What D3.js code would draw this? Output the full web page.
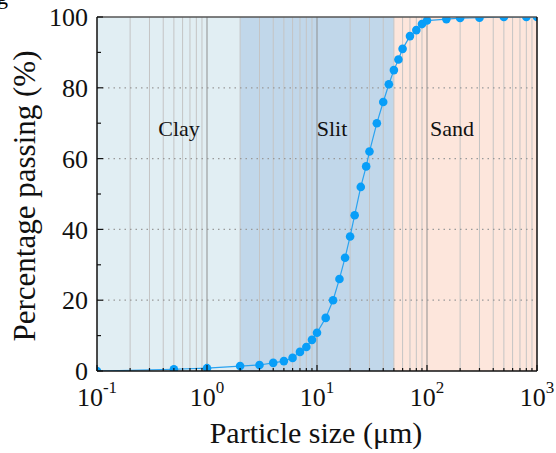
<!DOCTYPE html>
<html><head><meta charset="utf-8">
<script src="https://cdn.jsdelivr.net/npm/d3@7"></script>
<style>
html,body{margin:0;padding:0;background:#fff;}
svg{display:block;font-family:"Liberation Serif","Times New Roman",serif;}
</style></head>
<body><svg id="chart" width="556" height="453"></svg>
<script>
// Data
const sizes = [0.1, 0.5, 1, 2, 3, 4, 5, 6, 7, 8, 9, 10, 12, 14, 16, 18, 20, 22, 25, 28, 30, 35, 40, 45, 50, 55, 60, 70, 80, 90, 100, 150, 200, 300, 500, 800, 1000];
const passing = [0, 0.5, 0.8, 1.4, 1.7, 2.3, 2.8, 3.7, 5.4, 6.8, 8.8, 10.8, 15, 20, 26, 32, 38, 44, 52, 57.8, 62, 70, 76, 81, 85, 88, 91, 94.6, 96.3, 98, 99, 99.4, 99.7, 99.8, 100, 100, 100];
const zoneNames = ["Clay", "Slit", "Sand"];
const zoneBounds = [[0.1, 2], [2, 50], [50, 1000]];
const zoneColors = ["#e1eef3", "#c1d7ea", "#fde6dc"];
const xTickExps = [-1, 0, 1, 2, 3];
const yTicks = [0, 20, 40, 60, 80, 100];

const W = 556, H = 453;
const m = {l: 97, t: 17, r: 19, b: 82};
const iw = W - m.l - m.r, ih = H - m.t - m.b;
const svg = d3.select("#chart");
const g = svg.append("g").attr("transform", `translate(${m.l},${m.t})`);

const x = d3.scaleLog().domain([0.1, 1000]).range([0, iw]);
const y = d3.scaleLinear().domain([0, 100]).range([ih, 0]);

// stray cropped glyph at top-left
svg.append("text").attr("x", -3).attr("y", 4).attr("font-size", 22).text("g");

svg.append("defs").append("clipPath").attr("id", "clip")
  .append("rect").attr("width", iw).attr("height", ih);

// zones
g.selectAll("rect.zone").data(zoneBounds).enter().append("rect")
  .attr("x", d => x(d[0])).attr("y", 0)
  .attr("width", d => x(d[1]) - x(d[0])).attr("height", ih)
  .attr("fill", (d, i) => zoneColors[i]);

// vertical grid (minor and decade)
const allTicks = x.ticks();
const isDecade = d => Math.abs(Math.log10(d) - Math.round(Math.log10(d))) < 1e-9;
g.selectAll("line.vg").data(allTicks.filter(t => t > 0.1 && t < 1000)).enter().append("line")
  .attr("x1", d => x(d)).attr("x2", d => x(d)).attr("y1", 0).attr("y2", ih)
  .attr("stroke", d => isDecade(d) ? "#8f8f8f" : "#c4c4c4")
  .attr("stroke-width", 1);

// horizontal dotted grid
g.selectAll("line.hg").data([20, 40, 60, 80]).enter().append("line")
  .attr("x1", 0).attr("x2", iw).attr("y1", d => y(d)).attr("y2", d => y(d))
  .attr("stroke", "#999").attr("stroke-width", 1.2).attr("stroke-dasharray", "1.5,4");

// zone labels
g.selectAll("text.zl").data(zoneBounds).enter().append("text")
  .attr("x", (d, i) => [179, 332, 452][i] - m.l)
  .attr("y", 136 - m.t)
  .attr("text-anchor", "middle").attr("font-size", 22).attr("fill", "#111")
  .text((d, i) => zoneNames[i]);

// curve
const pts = sizes.map((s, i) => [s, passing[i]]);
const cg = g.append("g").attr("clip-path", "url(#clip)");
cg.append("path").datum(pts)
  .attr("d", d3.line().x(d => x(d[0])).y(d => y(d[1])))
  .attr("fill", "none").attr("stroke", "#2aa3f0").attr("stroke-width", 1.2);
cg.selectAll("circle").data(pts).enter().append("circle")
  .attr("cx", d => x(d[0])).attr("cy", d => y(d[1])).attr("r", 4.3)
  .attr("fill", "#089ef8");

// frame
g.append("line").attr("x1", 0).attr("x2", iw).attr("y1", 0).attr("y2", 0).attr("stroke", "#555").attr("stroke-width", 1.5);
g.append("line").attr("x1", iw).attr("x2", iw).attr("y1", 0).attr("y2", ih).attr("stroke", "#111").attr("stroke-width", 1.5);

// x axis
const xAxis = g.append("g").attr("transform", `translate(0,${ih})`);
xAxis.append("line").attr("x1", 0).attr("x2", iw).attr("stroke", "#111").attr("stroke-width", 1.5);
xAxis.selectAll("line.t").data(allTicks).enter().append("line")
  .attr("x1", d => x(d)).attr("x2", d => x(d)).attr("y1", 0)
  .attr("y2", d => isDecade(d) ? -6 : -3)
  .attr("stroke", "#111").attr("stroke-width", 1.2);
const xl = xAxis.selectAll("text.xl").data(xTickExps).enter().append("text")
  .attr("x", d => x(Math.pow(10, d))).attr("y", 406 - m.t - ih)
  .attr("text-anchor", "middle").attr("font-size", 26).attr("fill", "#111");
xl.append("tspan").text("10");
xl.append("tspan").attr("font-size", 17).attr("dy", -13).text(d => String(d));

// y axis
const yAxis = g.append("g");
yAxis.append("line").attr("x1", 0).attr("x2", 0).attr("y1", 0).attr("y2", ih).attr("stroke", "#111").attr("stroke-width", 1.5);
yAxis.selectAll("line.t").data(d3.range(0, 101, 10)).enter().append("line")
  .attr("x1", 0).attr("x2", d => d % 20 === 0 ? 6 : 4).attr("y1", d => y(d)).attr("y2", d => y(d))
  .attr("stroke", "#111").attr("stroke-width", 1.2);
yAxis.selectAll("text").data(yTicks).enter().append("text")
  .attr("x", 88 - m.l).attr("y", d => y(d)).attr("dy", "0.35em")
  .attr("text-anchor", "end").attr("font-size", 26).attr("fill", "#111").text(d => d);

// titles
svg.append("text").attr("x", 316).attr("y", 443).attr("text-anchor", "middle")
  .attr("font-size", 30).attr("fill", "#111").text("Particle size (\u03bcm)");
svg.append("text").attr("transform", "translate(35,196) rotate(-90)").attr("text-anchor", "middle")
  .attr("font-size", 31).attr("fill", "#111").text("Percentage passing (%)");
</script></body></html>
